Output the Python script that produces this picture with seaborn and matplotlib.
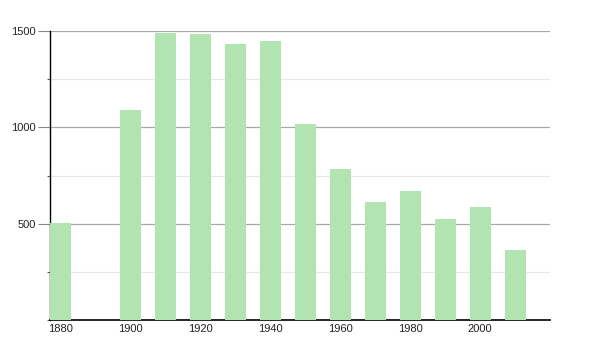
import matplotlib
matplotlib.use("Agg")
import matplotlib.pyplot as plt
import seaborn as sns
import pandas as pd
from matplotlib.ticker import MultipleLocator

years = [1880, 1900, 1910, 1920, 1930, 1940, 1950, 1960, 1970, 1980, 1990, 2000, 2010]
population = [505, 1090, 1488, 1483, 1432, 1446, 1017, 784, 611, 669, 524, 586, 363]
x_ticks = [1880, 1900, 1920, 1940, 1960, 1980, 2000]
y_ticks = [500, 1000, 1500]

sns.set_theme(style="white")
plt.rcParams['font.family'] = ['Liberation Sans', 'DejaVu Sans']

df = pd.DataFrame({"year": years, "pop": population})

fig = plt.figure(figsize=(6, 3.5), dpi=100)
ax = fig.add_axes([50/600, 30/350, 500/600, 289/350])

sns.barplot(data=df, x="year", y="pop", native_scale=True, width=0.6,
            color="#b2e4b2", saturation=1, linewidth=0, edgecolor="none",
            ax=ax, zorder=3)

ax.set_xlim(1877, 2020)
ax.set_ylim(0, 1500)
ax.set_xticks(x_ticks)
ax.set_xticklabels([str(t) for t in x_ticks])
ax.set_yticks(y_ticks)
ax.set_yticklabels([str(t) for t in y_ticks])
ax.yaxis.set_minor_locator(MultipleLocator(250))

ax.grid(True, which="major", axis="y", color="#a8a8a8", linewidth=0.9, zorder=1)
ax.grid(True, which="minor", axis="y", color="#e8e8e8", linewidth=0.9, zorder=1)
ax.grid(False, axis="x")

ax.set_xlabel("")
ax.set_ylabel("")
for s in ["top", "right"]:
    ax.spines[s].set_visible(False)
ax.spines["left"].set_color("black")
ax.spines["bottom"].set_color("black")
ax.spines["left"].set_linewidth(1.0)
ax.spines["bottom"].set_linewidth(1.2)

ax.tick_params(axis="y", which="major", length=9, width=0.8, color="#888888",
               direction="out", left=True, labelsize=8, pad=1, labelcolor="#222222")
ax.tick_params(axis="y", which="minor", length=2, width=0.8, color="#555555",
               direction="out", left=True)
ax.tick_params(axis="x", which="both", length=0, labelsize=8, pad=3, labelcolor="#222222")

fig.savefig("out.png", dpi=100)
